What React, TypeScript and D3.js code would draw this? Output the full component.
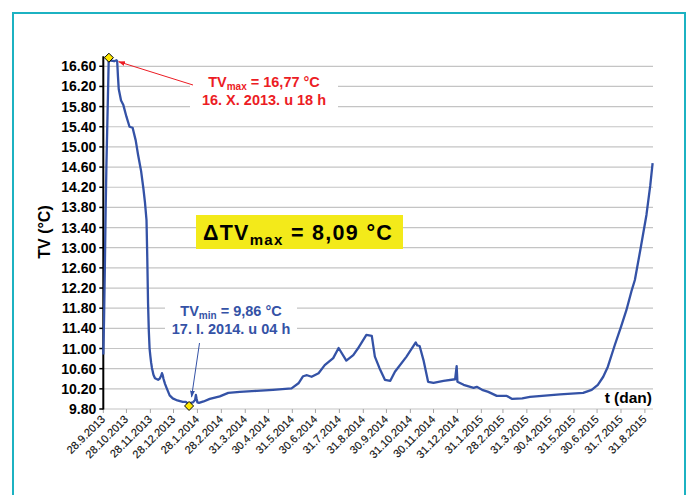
import React from "react";
import * as d3 from "d3";

// Measured water temperature TV over time
const seriesDates = [
  "2013-09-28", "2013-09-29", "2013-09-30", "2013-10-01", "2013-10-02", "2013-10-03", "2013-10-04", "2013-10-05",
  "2013-10-08", "2013-10-12", "2013-10-15", "2013-10-16",
  "2013-10-17", "2013-10-18", "2013-10-21", "2013-10-24", "2013-10-28", "2013-11-01", "2013-11-05", "2013-11-09",
  "2013-11-12", "2013-11-16", "2013-11-19", "2013-11-21", "2013-11-23", "2013-11-24", "2013-11-25", "2013-11-26",
  "2013-11-27", "2013-11-28", "2013-11-29", "2013-11-30",
  "2013-12-02", "2013-12-04", "2013-12-08", "2013-12-10", "2013-12-12", "2013-12-13", "2013-12-14", "2013-12-15",
  "2013-12-17", "2013-12-19", "2013-12-23", "2013-12-27",
  "2014-01-02", "2014-01-09", "2014-01-13", "2014-01-16", "2014-01-17", "2014-01-19", "2014-01-22", "2014-01-25",
  "2014-01-26", "2014-01-27", "2014-01-28", "2014-01-30",
  "2014-02-05", "2014-02-13", "2014-02-26", "2014-03-09", "2014-03-24", "2014-04-15", "2014-05-06", "2014-05-30",
  "2014-06-08", "2014-06-14", "2014-06-19", "2014-06-25", "2014-07-04", "2014-07-12", "2014-07-23", "2014-07-30",
  "2014-08-09", "2014-08-18", "2014-08-24", "2014-09-04", "2014-09-11", "2014-09-15", "2014-09-21", "2014-09-28",
  "2014-10-05", "2014-10-11", "2014-10-26", "2014-11-07", "2014-11-09", "2014-11-12", "2014-11-17", "2014-11-23",
  "2014-11-30",
  "2014-12-13", "2014-12-28", "2014-12-30", "2014-12-31", "2015-01-08", "2015-01-21", "2015-01-25", "2015-02-01",
  "2015-02-09", "2015-02-20", "2015-03-05", "2015-03-12", "2015-03-25", "2015-04-04", "2015-05-13", "2015-06-12",
  "2015-06-23", "2015-07-01", "2015-07-08", "2015-07-14", "2015-07-23", "2015-07-31", "2015-08-07", "2015-08-14",
  "2015-08-18", "2015-08-25", "2015-09-02", "2015-09-07", "2015-09-10",
];

const seriesValues = [
  10.88, 11.6, 12.6, 13.7, 14.6, 15.3, 16.0, 16.72,
  16.71, 16.7, 16.72, 16.7,
  16.4, 16.15, 15.92, 15.83, 15.6, 15.4, 15.38, 15.13,
  14.85, 14.52, 14.17, 13.9, 13.55, 12.8, 11.9, 11.35,
  11.0, 10.85, 10.72, 10.62,
  10.48, 10.41, 10.38, 10.4, 10.46, 10.51, 10.47, 10.4,
  10.3, 10.22, 10.07, 10.01,
  9.97, 9.94, 9.94, 9.9, 9.86, 9.92, 9.93, 9.98,
  10.08, 10.0, 9.93, 9.92,
  9.95, 10.0, 10.05, 10.12, 10.14, 10.16, 10.18, 10.21,
  10.31, 10.45, 10.47, 10.44, 10.51, 10.67, 10.81, 11.01,
  10.76, 10.87, 11.0, 11.27, 11.25, 10.84, 10.61, 10.38,
  10.36, 10.54, 10.84, 11.12, 11.06, 11.05, 10.77, 10.34,
  10.32,
  10.36, 10.39, 10.65, 10.34, 10.28, 10.22, 10.24, 10.18,
  10.14, 10.06, 10.06, 10.0, 10.01, 10.04, 10.09, 10.12,
  10.18, 10.28, 10.44, 10.64, 11.07, 11.43, 11.76, 12.16,
  12.36, 12.95, 13.65, 14.24, 14.68,
];

const xDomain = ["2013-09-28T00:00Z", "2015-09-10T12:00Z"];
const yDomain = [9.8, 16.8];

const yTicks = [9.8, 10.2, 10.6, 11.0, 11.4, 11.8, 12.2, 12.6, 13.0, 13.4, 13.8, 14.2, 14.6, 15.0, 15.4, 15.8, 16.2, 16.6];

const xTickDates = [
  "2013-09-28", "2013-10-28", "2013-11-28", "2013-12-28", "2014-01-28", "2014-02-28",
  "2014-03-31", "2014-04-30", "2014-05-31", "2014-06-30", "2014-07-31", "2014-08-31",
  "2014-09-30", "2014-10-31", "2014-11-30", "2014-12-31", "2015-01-31", "2015-02-28",
  "2015-03-31", "2015-04-30", "2015-05-31", "2015-06-30", "2015-07-31", "2015-08-31",
];

// Extremes
const maxMarker = { date: "2013-10-05T06:00Z", value: 16.77 };
const maxArrowTarget = { date: "2013-10-16T18:00Z", value: 16.7 };
const minMarker = { date: "2014-01-17T04:00Z", value: 9.86 };

const maxText = ["TV", "max", " = 16,77 °C", "16. X. 2013. u 18 h"];
const minText = ["TV", "min", " = 9,86 °C", "17. I. 2014. u 04 h"];
const deltaText = ["ΔTV", "max", " = 8,09 °C"];

const FONT = "'Liberation Sans', Arial, Helvetica, sans-serif";
const LINE_BLUE = "#3452a6";
const RED = "#ec1c24";

const parse = (s: string) => d3.isoParse(s.length === 10 ? s + "T00:00Z" : s) as Date;

export default function App() {
  const left = 103.3;
  const right = 653;
  const top = 56.2;
  const bottom = 409;

  const x = d3.scaleUtc().domain(xDomain.map(parse)).range([left, right]);
  const y = d3.scaleLinear().domain(yDomain).range([bottom, top]);

  const n = Math.min(seriesDates.length, seriesValues.length);
  const points: [Date, number][] = [];
  for (let i = 0; i < n; i++) points.push([parse(seriesDates[i]), seriesValues[i]]);

  const linePath = d3
    .line<[Date, number]>()
    .x((d) => x(d[0]))
    .y((d) => y(d[1]))(points) as string;

  const fmtDate = (d: Date) => `${d.getUTCDate()}.${d.getUTCMonth() + 1}.${d.getUTCFullYear()}`;

  const diamond = (cx: number, cy: number, r: number) =>
    `M${cx},${cy - r}L${cx + r},${cy}L${cx},${cy + r}L${cx - r},${cy}Z`;

  const maxX = x(parse(maxMarker.date));
  const maxY = y(maxMarker.value);
  const minX = x(parse(minMarker.date));
  const minY = y(minMarker.value);
  const maxTX = x(parse(maxArrowTarget.date));
  const maxTY = y(maxArrowTarget.value);

  return (
    <svg
      width={686}
      height={495}
      style={{ position: "absolute", left: 0, top: 0, background: "#fff" }}
      fontFamily={FONT}
    >
      <defs>
        <marker id="arrRed" viewBox="0 0 10 10" refX="9" refY="5" markerWidth="7" markerHeight="7" orient="auto">
          <path d="M0,1.5L10,5L0,8.5Z" fill={RED} />
        </marker>
        <marker id="arrBlue" viewBox="0 0 10 10" refX="9" refY="5" markerWidth="7" markerHeight="7" orient="auto">
          <path d="M0,1.5L10,5L0,8.5Z" fill={LINE_BLUE} />
        </marker>
      </defs>

      <rect x={0} y={0} width={686} height={495} fill="#fff" />
      {/* frame */}
      <path d="M13,500V13H685V500" fill="none" stroke="#1cb2c2" strokeWidth={2} />

      {/* horizontal gridlines */}
      {yTicks.map((t) => (
        <line key={t} x1={left} x2={right} y1={y(t)} y2={y(t)} stroke="#c4c4c4" strokeWidth={1.2} />
      ))}

      {/* x axis ticks */}
      {xTickDates.map((s) => {
        const xx = x(parse(s));
        return <line key={s} x1={xx} x2={xx} y1={bottom} y2={bottom + 4} stroke="#a6a6a6" strokeWidth={1} />;
      })}

      {/* x tick labels */}
      {xTickDates.map((s) => {
        const xx = x(parse(s));
        return (
          <text
            key={"l" + s}
            transform={`translate(${xx + 2.5},${bottom + 11}) rotate(-45)`}
            textAnchor="end"
            fontSize={11}
            fill="#111"
            stroke="#111"
            strokeWidth={0.15}
          >
            {fmtDate(parse(s))}
          </text>
        );
      })}

      {/* y axis */}
      <line x1={left} x2={left} y1={top} y2={bottom + 0.5} stroke="#000" strokeWidth={2} />
      {yTicks.map((t) => (
        <g key={"y" + t}>
          <line x1={left - 4} x2={left} y1={y(t)} y2={y(t)} stroke="#000" strokeWidth={1.5} />
          <text x={left - 7} y={y(t) + 5} textAnchor="end" fontSize={14} fontWeight="bold" fill="#000">
            {t.toFixed(2)}
          </text>
        </g>
      ))}

      <text
        transform={`translate(50,232) rotate(-90)`}
        textAnchor="middle"
        fontSize={16}
        fontWeight="bold"
        fill="#000"
      >
        TV (°C)
      </text>

      <text x={652} y={402.5} textAnchor="end" fontSize={15.5} fontWeight="bold" fill="#000">
        t (dan)
      </text>

      {/* data line */}
      <path d={linePath} fill="none" stroke={LINE_BLUE} strokeWidth={2.3} strokeLinejoin="round" />

      {/* max annotation */}
      <rect x={190} y={71} width={148} height={41} fill="#fff" />
      <line x1={193} y1={85} x2={maxTX + 1} y2={maxTY + 0.5} stroke={RED} strokeWidth={1} markerEnd="url(#arrRed)" />
      <text x={264} y={87} textAnchor="middle" fontSize={14.5} fontWeight="bold" fill={RED}>
        {maxText[0]}
        <tspan fontSize={10} dy={3}>{maxText[1]}</tspan>
        <tspan dy={-3}>{maxText[2]}</tspan>
      </text>
      <text x={264} y={105} textAnchor="middle" fontSize={14.5} fontWeight="bold" fill={RED}>
        {maxText[3]}
      </text>
      <path d={diamond(maxX, maxY, 4.5)} fill="#ffe800" stroke="#000" strokeWidth={1} />

      {/* min annotation */}
      <rect x={165} y={297} width={132} height={43} fill="#fff" />
      <line x1={199.5} y1={343} x2={minX + 2.5} y2={minY - 9} stroke={LINE_BLUE} strokeWidth={1} markerEnd="url(#arrBlue)" />
      <text x={231} y={316} textAnchor="middle" fontSize={14.5} fontWeight="bold" fill={LINE_BLUE}>
        {minText[0]}
        <tspan fontSize={10} dy={3}>{minText[1]}</tspan>
        <tspan dy={-3}>{minText[2]}</tspan>
      </text>
      <text x={231} y={334} textAnchor="middle" fontSize={14.5} fontWeight="bold" fill={LINE_BLUE}>
        {minText[3]}
      </text>
      <path d={diamond(minX, minY, 4.5)} fill="#ffe800" stroke="#000" strokeWidth={1} />

      {/* delta box */}
      <rect x={196} y={215} width={207} height={34} fill="#f3ea1a" />
      <text x={298} y={239.5} textAnchor="middle" fontSize={21.5} fontWeight="bold" fill="#000" letterSpacing={1.3}>
        {deltaText[0]}
        <tspan fontSize={15} dy={5}>{deltaText[1]}</tspan>
        <tspan dy={-5}>{deltaText[2]}</tspan>
      </text>
    </svg>
  );
}
